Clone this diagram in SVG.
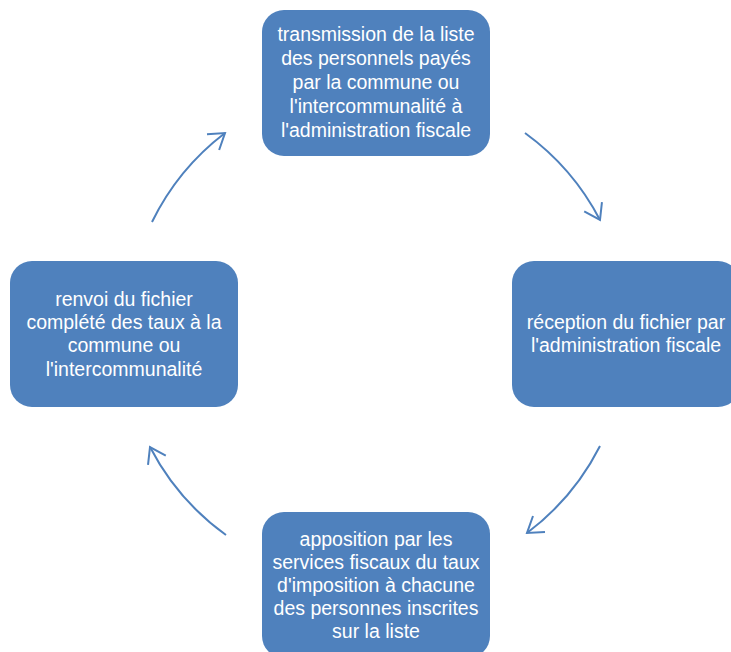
<svg xmlns="http://www.w3.org/2000/svg" width="731" height="652" viewBox="0 0 731 652">
<style>
.box{fill:#4F81BD;}
.t{font-family:"Liberation Sans",Arial,sans-serif;font-size:19.5px;fill:#FFFFFF;text-anchor:middle;}
.c{fill:none;stroke:#4F81BD;stroke-width:2;}
</style>
<defs>
<marker id="ah" markerUnits="userSpaceOnUse" markerWidth="24" markerHeight="24" refX="18" refY="12" orient="auto" overflow="visible">
<path d="M3,2 L18,12 L3,22" fill="none" stroke="#4F81BD" stroke-width="2"/>
</marker>
</defs>
<rect width="731" height="652" fill="#FFFFFF"/>
<g id="connectors">
<path class="c" d="M525,133 A250,250 0 0 1 600,220" marker-end="url(#ah)"/>
<path class="c" d="M600,446 A250,250 0 0 1 527,533" marker-end="url(#ah)"/>
<path class="c" d="M226,535 A250,250 0 0 1 150,447" marker-end="url(#ah)"/>
<path class="c" d="M152,222 A250,250 0 0 1 225,133" marker-end="url(#ah)"/>
</g>
<g id="node-top">
<rect class="box" x="262" y="10" width="228" height="146" rx="22"/>
<text class="t" x="376" y="41">transmission de la liste</text>
<text class="t" x="376" y="65">des personnels payés</text>
<text class="t" x="376" y="89">par la commune ou</text>
<text class="t" x="376" y="113">l'intercommunalité à</text>
<text class="t" x="376" y="137">l'administration fiscale</text>
</g>
<g id="node-right">
<rect class="box" x="512" y="261" width="228" height="146" rx="22"/>
<text class="t" x="626" y="329">réception du fichier par</text>
<text class="t" x="626" y="352">l'administration fiscale</text>
</g>
<g id="node-bottom">
<rect class="box" x="262" y="512" width="228" height="146" rx="22"/>
<text class="t" x="376" y="546">apposition par les</text>
<text class="t" x="376" y="569">services fiscaux du taux</text>
<text class="t" x="376" y="592">d'imposition à chacune</text>
<text class="t" x="376" y="615">des personnes inscrites</text>
<text class="t" x="376" y="638">sur la liste</text>
</g>
<g id="node-left">
<rect class="box" x="10" y="261" width="228" height="146" rx="22"/>
<text class="t" x="124" y="306">renvoi du fichier</text>
<text class="t" x="124" y="329">complété des taux à la</text>
<text class="t" x="124" y="352">commune ou</text>
<text class="t" x="124" y="376">l'intercommunalité</text>
</g>
</svg>
